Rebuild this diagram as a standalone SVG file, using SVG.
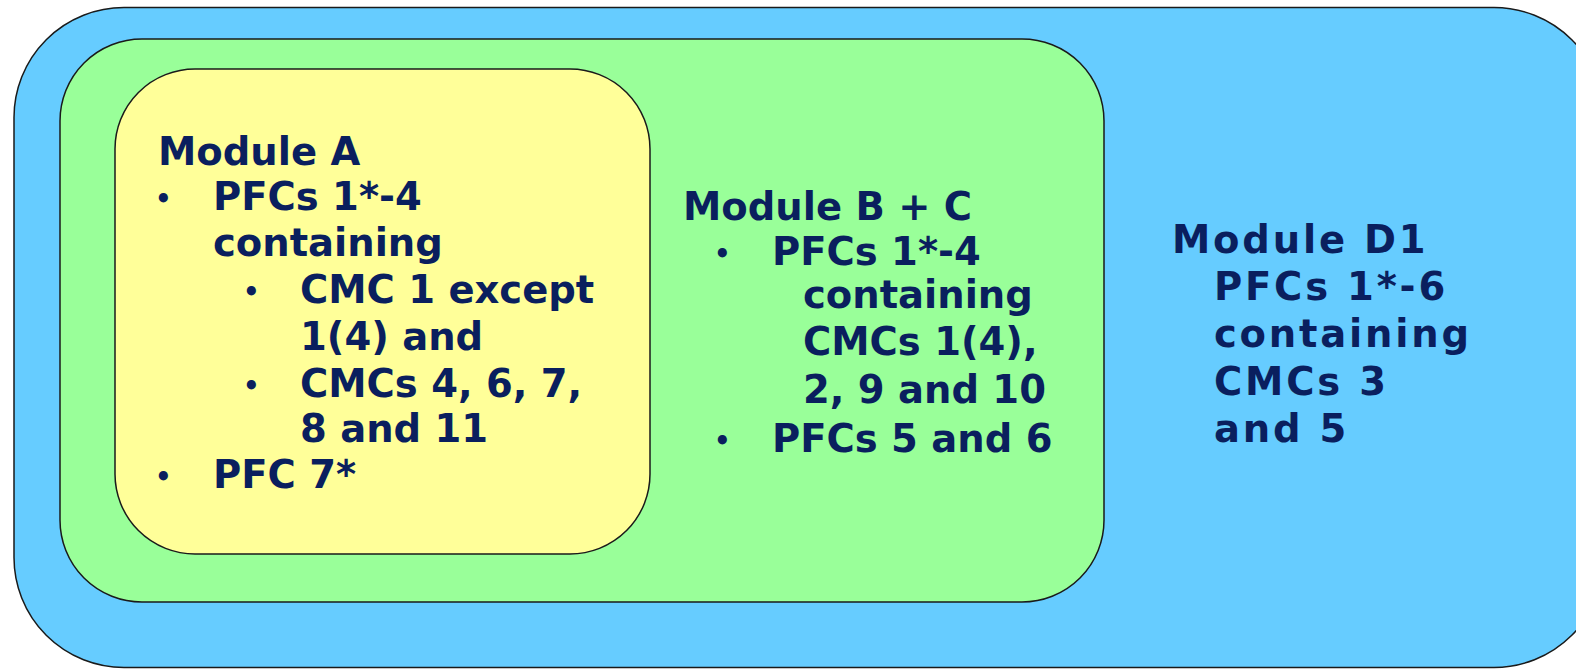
<svg xmlns="http://www.w3.org/2000/svg" width="1576" height="669" viewBox="0 0 1576 669">
<style>
.box{stroke:#1a1a1a;stroke-width:1.5}
.t{font-family:"DejaVu Sans","Verdana",sans-serif;font-weight:bold;font-size:38.5px;fill:#0a1f5e}
.d{letter-spacing:2.8px}
.b{font-family:"DejaVu Sans","Verdana",sans-serif;font-weight:bold;font-size:26px;fill:#0a1f5e}
</style>
<rect width="1576" height="669" fill="#ffffff"/>
<g id="moduleD1">
<rect class="box" x="14" y="7.5" width="1590" height="660" rx="110" ry="110" fill="#66CCFF"/>
<text class="t d" x="1172" y="253">Module D1</text>
<text class="t d" x="1214" y="300">PFCs 1*-6</text>
<text class="t d" x="1214" y="347">containing</text>
<text class="t d" x="1214" y="395">CMCs 3</text>
<text class="t d" x="1214" y="442">and 5</text>
</g>
<g id="moduleBC">
<rect class="box" x="60" y="39" width="1044" height="563" rx="82" ry="82" fill="#99FF99"/>
<text class="t" x="683" y="220">Module B + C</text>
<text class="b" x="714" y="263">•</text>
<text class="t" x="772" y="265">PFCs 1*-4</text>
<text class="t" x="803" y="308">containing</text>
<text class="t" x="803" y="355">CMCs 1(4),</text>
<text class="t" x="803" y="403">2, 9 and 10</text>
<text class="b" x="714" y="450">•</text>
<text class="t" x="772" y="452">PFCs 5 and 6</text>
</g>
<g id="moduleA">
<rect class="box" x="115" y="69" width="535" height="485" rx="80" ry="80" fill="#FFFF99"/>
<text class="t" x="158" y="165">Module A</text>
<text class="b" x="155" y="208">•</text>
<text class="t" x="213" y="210">PFCs 1*-4</text>
<text class="t" x="213" y="256">containing</text>
<text class="b" x="243" y="301">•</text>
<text class="t" x="300" y="303">CMC 1 except</text>
<text class="t" x="300" y="350">1(4) and</text>
<text class="b" x="243" y="395">•</text>
<text class="t" x="300" y="397">CMCs 4, 6, 7,</text>
<text class="t" x="300" y="442">8 and 11</text>
<text class="b" x="155" y="486">•</text>
<text class="t" x="213" y="488">PFC 7*</text>
</g>
<g id="connectors"/>
</svg>
